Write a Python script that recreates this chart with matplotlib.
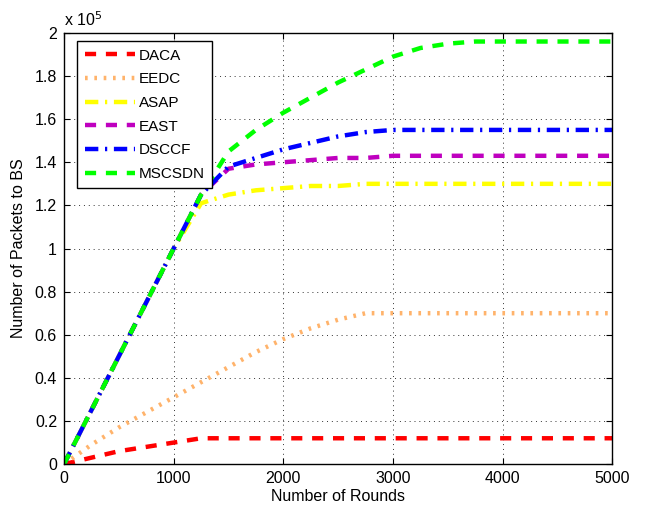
import numpy as np
import matplotlib.pyplot as plt

plt.rcParams['font.family'] = ['Liberation Sans', 'DejaVu Sans']

rounds = [0, 250, 500, 750, 1000, 1250, 1500, 1750, 2000, 2250, 2500, 2750, 3000, 3250, 3500, 3750, 4000, 4500, 5000]

# packets to BS (in units of 1e5)
daca = [0, 0.03, 0.06, 0.08, 0.10, 0.12, 0.12, 0.12, 0.12, 0.12, 0.12, 0.12, 0.12, 0.12, 0.12, 0.12, 0.12, 0.12, 0.12]
eedc = [0, 0.09, 0.17, 0.24, 0.31, 0.38, 0.45, 0.52, 0.58, 0.63, 0.67, 0.70, 0.70, 0.70, 0.70, 0.70, 0.70, 0.70, 0.70]
asap = [0, 0.25, 0.50, 0.75, 1.00, 1.21, 1.25, 1.27, 1.28, 1.29, 1.29, 1.30, 1.30, 1.30, 1.30, 1.30, 1.30, 1.30, 1.30]
east = [0, 0.25, 0.50, 0.75, 1.00, 1.25, 1.37, 1.39, 1.40, 1.41, 1.42, 1.42, 1.43, 1.43, 1.43, 1.43, 1.43, 1.43, 1.43]
dsccf = [0, 0.25, 0.50, 0.75, 1.00, 1.25, 1.38, 1.42, 1.46, 1.49, 1.52, 1.54, 1.55, 1.55, 1.55, 1.55, 1.55, 1.55, 1.55]
mscsdn = [0, 0.25, 0.50, 0.75, 1.00, 1.25, 1.45, 1.55, 1.63, 1.70, 1.77, 1.83, 1.89, 1.93, 1.95, 1.96, 1.96, 1.96, 1.96]

names = ['DACA', 'EEDC', 'ASAP', 'EAST', 'DSCCF', 'MSCSDN']
series = [daca, eedc, asap, east, dsccf, mscsdn]
colors = ['#ff0000', '#ffb36b', '#ffff00', '#bf00bf', '#0000ff', '#00ff00']
styles = [(0, (2.5, 2.2)), (0, (0.6, 1.5)), (0, (3, 1.5, 0.5, 1.5)), (0, (2.5, 2.2)),
          (0, (3, 1.5, 0.5, 1.5)), (0, (2.5, 2.2))]

fig = plt.figure(figsize=(6.46, 5.14), dpi=100)
ax = fig.add_axes([0.099, 0.097, 0.849, 0.839])

for y, name, c, ls in zip(series, names, colors, styles):
    ax.plot(rounds, y, color=c, linestyle=ls, linewidth=3.2, label=name)

fs = 11.5
ax.set_xlim(0, 5000)
ax.set_ylim(0, 2)
ax.set_xticks(np.arange(0, 5001, 1000))
yt = np.arange(0, 2.01, 0.2)
ax.set_yticks(yt)
ax.set_yticklabels(['%g' % round(v, 1) for v in yt])
ax.grid(True, linestyle=(0, (1, 4)), color='#333333', linewidth=0.7)
ax.tick_params(direction='in', top=True, right=True, labelsize=fs, length=4, pad=5)
for s in ax.spines.values():
    s.set_linewidth(1.0)

ax.text(0, 1.008, r'x 10$^5$', transform=ax.transAxes, fontsize=fs, va='bottom', ha='left')
ax.set_xlabel('Number of Rounds', fontsize=fs, labelpad=2)
ax.set_ylabel('Number of Packets to BS', fontsize=fs, labelpad=6)

leg = ax.legend(loc='upper left', bbox_to_anchor=(0.0237, 0.981), borderaxespad=0,
                fontsize=11, fancybox=False, framealpha=1, edgecolor='black',
                handlelength=3.3, labelspacing=0.63, handletextpad=0.25, borderpad=0.5)
leg.get_frame().set_linewidth(1.0)

fig.savefig('out.png', dpi=100)
